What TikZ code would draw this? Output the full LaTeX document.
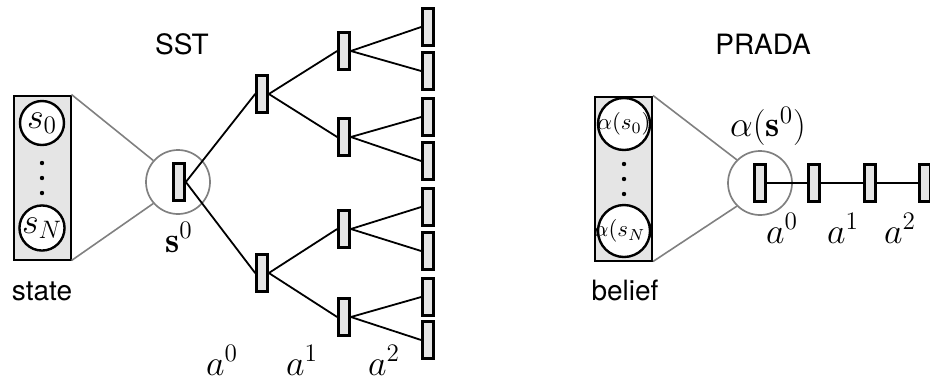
\RequirePackage{fix-cm}
\documentclass[tikz,border=0pt]{standalone}
\usepackage{amsmath,amssymb}
\usepackage{fontspec}
\setsansfont{TeX Gyre Heros}
\usepackage{tikz}
\usetikzlibrary{positioning}
\tikzset{
  slot/.style={draw, line width=1.25pt, fill=gray!20, inner sep=0pt,
    minimum width=5.6pt, minimum height=18.4pt},
  treeln/.style={line width=0.9pt, line cap=round},
  zoomln/.style={draw=black!50, line width=0.8pt},
  lens/.style={circle, draw=black!50, line width=0.85pt, inner sep=0pt,
    minimum size=32pt},
  holder/.style={draw, line width=1pt, fill=gray!20, inner sep=0pt,
    minimum width=28.5pt, minimum height=82pt},
  stcirc/.style={circle, draw, fill=white, line width=1.2pt, inner sep=0pt},
  ttl/.style={font=\fontsize{14}{16}\selectfont\sffamily},
  mlbl/.style={font=\fontsize{18}{20}\selectfont, inner sep=0pt},
}
\newcommand{\vdotsat}[2]{%
  \foreach \dy in {-15,0,15} \fill (#1,#2+\dy) circle (1.1pt);
}

\begin{document}
\begin{tikzpicture}[x=0.5pt, y=-0.5pt]
  \useasboundingbox (0,0) rectangle (930,381);
  % --- SST (left picture) ---
  \node[ttl] (sst) at (182,44) {SST};
  \node[holder] (state) at (42,177.5) {};
  \node[stcirc, minimum size=22pt, mlbl] (s0) at (42,123) {$s_0$};
  \node[stcirc, minimum size=22pt, mlbl] (sN) at (42,228) {$s_N$};
  \vdotsat{42}{178}
  \node[ttl, anchor=base] (statelbl) at (42,300) {state};
  % magnified root
  \node[lens] (lensa) at (178,182) {};
  \draw[zoomln] (state.north east) -- (lensa.139);
  \draw[zoomln] (state.south east) -- (lensa.221);
  \node[mlbl, anchor=base] (s0lbl) at (179,252) {$\mathbf{s}^0$};
  % tree
  \node[slot] (r) at (179,182) {};
  \foreach \n/\y in {u/94, d/273} {
    \node[slot] (\n) at (262,\y) {};
    \draw[treeln] (r.east) -- (\n.west);
  }
  \foreach \p/\n/\y in {u/uu/51, u/ud/137, d/du/229, d/dd/317} {
    \node[slot] (\n) at (344,\y) {};
    \draw[treeln] (\p.east) -- (\n.west);
  }
  \foreach \p/\n/\y in {uu/uuu/27, uu/uud/71, ud/udu/117, ud/udd/161,
                        du/duu/207, du/dud/251, dd/ddu/297, dd/ddd/340} {
    \node[slot] (\n) at (428,\y) {};
    \draw[treeln] (\p.east) -- (\n.west);
  }
  \node[mlbl, anchor=base] (ta0) at (222,375) {$a^0$};
  \node[mlbl, anchor=base] (ta1) at (302,375) {$a^1$};
  \node[mlbl, anchor=base] (ta2) at (384,375) {$a^2$};
  % --- PRADA (right picture) ---
  \node[ttl] (prada) at (763,44) {PRADA};
  \node[holder] (belief) at (623.5,178.5) {};
  % text is as wide as the circle, so give it no width
  \node[stcirc, minimum size=26pt, font=\fontsize{11.4}{13}\selectfont]
    (b0) at (624,124) {\makebox[0pt]{$\alpha(s_0)$}};
  \node[stcirc, minimum size=26pt, font=\fontsize{11.4}{13}\selectfont]
    (bN) at (624,231) {\makebox[0pt]{$\alpha(s_N)$}};
  \vdotsat{624}{179}
  \node[ttl, anchor=base] (belieflbl) at (625,300) {belief};
  % magnified belief node
  \node[lens] (lensb) at (760,183) {};
  \draw[zoomln] (belief.north east) -- (lensb.135);
  \draw[zoomln] (belief.south east) -- (lensb.225);
  \node[mlbl] (alphalbl) at (768,126) {$\alpha(\mathbf{s}^0)$};
  % chain
  \node[slot] (p0) at (760,183) {};
  \foreach \p/\n/\x in {p0/p1/814, p1/p2/870, p2/p3/925} {
    \node[slot] (\n) at (\x,183) {};
    \draw[treeln] (\p.east) -- (\n.west);
  }
  \node[mlbl, anchor=base] (ca0) at (782,243) {$a^0$};
  \node[mlbl, anchor=base] (ca1) at (843,243) {$a^1$};
  \node[mlbl, anchor=base] (ca2) at (900,243) {$a^2$};
\end{tikzpicture}
\end{document}
